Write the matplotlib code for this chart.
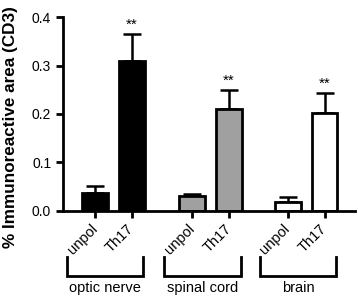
import numpy as np
import matplotlib
matplotlib.use("Agg")
import matplotlib.pyplot as plt
import matplotlib.transforms as mtransforms

plt.rcParams['font.family'] = ['Liberation Sans', 'DejaVu Sans']

groups = ['optic nerve', 'spinal cord', 'brain']
conditions = ['unpol', 'Th17']
means = [0.037, 0.310, 0.030, 0.210, 0.018, 0.202]
errs = [0.014, 0.056, 0.005, 0.040, 0.010, 0.041]
colors_fill = ['black', 'black', '#a0a0a0', '#a0a0a0', 'white', 'white']
signif = ['', '**', '', '**', '', '**']
yticks = [0.0, 0.1, 0.2, 0.3, 0.4]

# bar positions (two bars per group)
group_start = [0.0, 2.7, 5.35]
xpos = []
for g in group_start:
    xpos += [g, g + 1.02]
xlabels = conditions * len(groups)

fig = plt.figure(figsize=(3.58, 3.0), dpi=100)
ax = fig.add_axes([0.176, 0.297, 0.816, 0.646])

ax.bar(xpos, means, width=0.72, color=colors_fill, edgecolor='black', linewidth=2, zorder=2)
ax.errorbar(xpos, means, yerr=[np.zeros(len(errs)), errs], fmt='none', ecolor='black',
            elinewidth=1.8, capsize=6.5, capthick=1.8, zorder=1)
for x, m, e, s in zip(xpos, means, errs, signif):
    if s:
        ax.text(x, m + e + 0.004, s, ha='center', va='bottom', fontsize=11)

ax.set_xlim(-0.89, 7.22)
ax.set_ylim(0, 0.4)
ax.set_yticks(yticks)
ax.set_yticklabels(['%.1f' % t for t in yticks], fontsize=10)
ax.set_xticks(xpos)
ax.set_xticklabels(xlabels, rotation=45, ha='right', va='center', rotation_mode='anchor', fontsize=10.5)
ax.tick_params(axis='both', width=2, length=5, direction='out')
ax.tick_params(axis='x', pad=6)
fig.text(11 / 358, 1 - 127 / 300, '% Immunoreactive area (CD3)', rotation=90,
         ha='center', va='center', fontsize=12.3, fontweight='bold')

for side in ['top', 'right']:
    ax.spines[side].set_visible(False)
for side in ['left', 'bottom']:
    ax.spines[side].set_linewidth(2)

# brackets under the groups
trans = mtransforms.blended_transform_factory(ax.transData, ax.transAxes)
for g, name in zip(group_start, groups):
    x0 = g - 0.78
    x1 = g + 1.02 + 0.32
    ax.plot([x0, x0, x1, x1], [-0.24, -0.335, -0.335, -0.24], color='black', lw=2,
            transform=trans, clip_on=False, solid_joinstyle='miter')
    ax.text((x0 + x1) / 2, -0.36, name, ha='center', va='top', fontsize=10.5, transform=trans)

fig.savefig('out.png', dpi=100)
